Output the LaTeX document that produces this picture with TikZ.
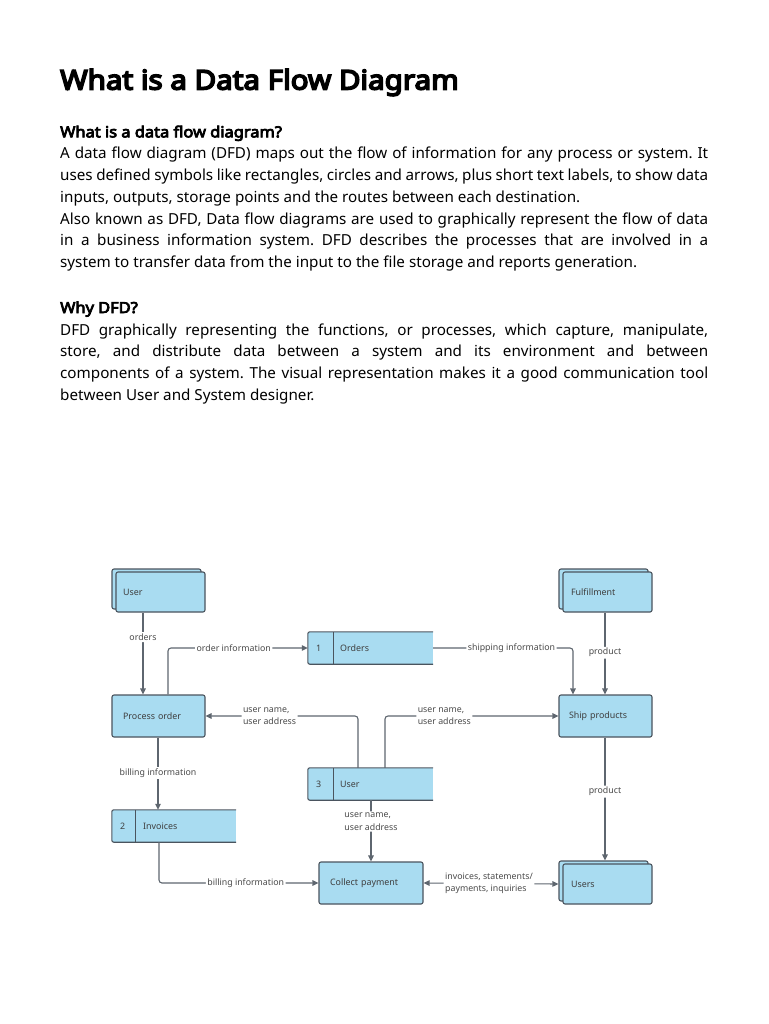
\documentclass[tikz,border=0pt]{standalone}
\usepackage{fontspec}
\setmainfont{Noto Sans}
\newfontfamily\dfont{Noto Sans}
\newfontfamily\hbf{Noto Sans}[FakeBold=5,FakeStretch=1.08]
\newfontfamily\tbf{Noto Sans}[FakeBold=6,FakeStretch=1.095]
\usetikzlibrary{arrows.meta,shadows}
\definecolor{boxfill}{HTML}{A9DCF1}
\definecolor{boxline}{HTML}{4A545E}
\definecolor{flowline}{HTML}{5E666F}
\definecolor{lbltext}{HTML}{4A4A4A}
\frenchspacing
\begin{document}
\begin{tikzpicture}[x=1pt,y=-1pt,
  body/.style={anchor=base west, inner sep=0pt, font=\fontsize{15.2}{18}\selectfont\frenchspacing},
  bodyhead/.style={anchor=base west, inner sep=0pt, font=\hbf\fontsize{15.2}{18}\selectfont},
  proc/.style={draw=boxline, fill=boxfill, line width=1.1pt, rounded corners=2pt,
    align=left, font=\dfont\fontsize{8.9}{10}\selectfont, text=lbltext!85!black},
  entity/.style={proc, copy shadow={shadow xshift=-4pt, shadow yshift=3pt, fill=boxfill, draw=boxline, line width=1.1pt}},
  storebox/.style={fill=boxfill, inner sep=0pt, minimum width=125pt, minimum height=32pt},
  storeline/.style={draw=boxline, line width=1.1pt, rounded corners=2pt},
  storetext/.style={anchor=west, inner sep=0pt, font=\dfont\fontsize{8.9}{10}\selectfont, text=lbltext!85!black},
  flow/.style={draw=flowline, line width=1.1pt, rounded corners=3pt, -{Triangle[length=6pt,width=5.5pt]}},
  flowlbl/.style={fill=white, inner sep=1.5pt, font=\dfont\fontsize{8.8}{12.5}\selectfont, text=lbltext, align=left}
]
\useasboundingbox[fill=white] (0,0) rectangle (768,1024);

% ---------- text ----------
\node[anchor=base west, inner sep=0pt, font=\tbf\fontsize{27}{32}\selectfont] (title) at (60,89.5) {What is a Data Flow Diagram};
\node[bodyhead] (h1) at (60,137.3) {What is a data flow diagram?};
\node[body] (l1) at (60,159) {\makebox[648pt][s]{A data flow diagram (DFD) maps out the flow of information for any process or system. It}};
\node[body] (l2) at (60,180.7) {\makebox[648pt][s]{uses defined symbols like rectangles, circles and arrows, plus short text labels, to show data}};
\node[body] (l3) at (60,202.4) {inputs, outputs, storage points and the routes between each destination.};
\node[body] (l4) at (60,224.1) {\makebox[648pt][s]{Also known as DFD, Data flow diagrams are used to graphically represent the flow of data}};
\node[body] (l5) at (60,245.8) {\makebox[648pt][s]{in a business information system. DFD describes the processes that are involved in a}};
\node[body] (l6) at (60,267.5) {system to transfer data from the input to the file storage and reports generation.};
\node[bodyhead] (h2) at (60,313) {Why DFD?};
\node[body] (m1) at (60,335) {\makebox[648pt][s]{DFD graphically representing the functions, or processes, which capture, manipulate,}};
\node[body] (m2) at (60,356.7) {\makebox[648pt][s]{store, and distribute data between a system and its environment and between}};
\node[body] (m3) at (60,378.4) {\makebox[648pt][s]{components of a system. The visual representation makes it a good communication tool}};
\node[body] (m4) at (60,400.1) {between User and System designer.};

% ---------- boxes ----------
\node[entity, text width=75pt, inner xsep=7pt, minimum height=40pt] (user) at (160.5,592) {User};
\node[entity, text width=73pt, inner xsep=8pt, minimum height=40pt] (fulfil) at (607.5,592) {Fulfillment};
\node[proc, text width=71pt, inner xsep=11pt, minimum height=42pt] (procorder) at (158.5,716) {Process order};
\node[proc, text width=73pt, inner xsep=10pt, minimum height=42pt] (ship) at (605.5,716) {Ship products};
\node[proc, text width=82pt, inner xsep=11pt, minimum height=42pt] (collect) at (371,883) {Collect payment};
\node[entity, text width=73pt, inner xsep=8pt, minimum height=40pt] (users) at (607.5,884) {Users};

% stores
\node[storebox] (orders) at (370.5,648) {};
\draw[storeline] (orders.north east) -- (orders.north west) -- (orders.south west) -- (orders.south east);
\draw[storeline] ([xshift=26pt]orders.north west) -- ([xshift=26pt]orders.south west);
\node[storetext] (ordersnum) at (316,648) {1};
\node[storetext] (orderstxt) at (340,648) {Orders};

\node[storebox] (ustore) at (370.5,784) {};
\draw[storeline] (ustore.north east) -- (ustore.north west) -- (ustore.south west) -- (ustore.south east);
\draw[storeline] ([xshift=26pt]ustore.north west) -- ([xshift=26pt]ustore.south west);
\node[storetext] (ustorenum) at (316,784) {3};
\node[storetext] (ustoretxt) at (340,784) {User};

\node[storebox, minimum width=124pt] (invoices) at (174,826) {};
\draw[storeline] (invoices.north east) -- (invoices.north west) -- (invoices.south west) -- (invoices.south east);
\draw[storeline] ([xshift=24pt]invoices.north west) -- ([xshift=24pt]invoices.south west);
\node[storetext] (invnum) at (120,826) {2};
\node[storetext] (invtxt) at (143,826) {Invoices};

% ---------- connector x positions ----------
\coordinate (c1) at (143,0);
\coordinate (c2) at (168,0);
\coordinate (c3) at (573,0);
\coordinate (c4) at (605,0);
\coordinate (c5) at (358,0);
\coordinate (c6) at (385,0);
\coordinate (c7) at (158,0);
\coordinate (c8) at (159,0);
\coordinate (c9) at (371,0);

% ---------- connectors ----------
\draw[flow] (user.south -| c1) -- node[flowlbl, pos=0.3] (lorders) {orders} (procorder.north -| c1);
\draw[flow] (procorder.north -| c2) |- node[flowlbl, pos=0.735] (lorderinfo) {order information} (orders.west);
\draw[flow] (orders.east) -| node[flowlbl, pos=0.28] (lshipinfo) {shipping information} (ship.north -| c3);
\draw[flow] (fulfil.south -| c4) -- node[flowlbl, pos=0.49] (lprod1) {product} (ship.north -| c4);
\draw[flow] (ustore.north -| c5) |- node[flowlbl, pos=0.79] (luser1) {user name,\\user address} (procorder.east);
\draw[flow] (ustore.north -| c6) |- node[flowlbl, pos=0.671] (luser2) {user name,\\user address} (ship.west);
\draw[flow] (procorder.south -| c7) -- node[flowlbl, pos=0.49] (lbill1) {billing information} (invoices.north -| c7);
\draw[flow] (invoices.south -| c8) |- node[flowlbl, pos=0.772] (lbill2) {billing information} (collect.west);
\draw[flow] (ustore.south -| c9) -- node[flowlbl, pos=0.347] (luser3) {user name,\\user address} (collect.north -| c9);
\draw[flow, {Triangle[length=6pt,width=5.5pt]}-{Triangle[length=6pt,width=5.5pt]}] (collect.east) -- node[flowlbl, pos=0.485] (linv) {invoices, statements/\\payments, inquiries} ([xshift=-4pt]users.west);
\draw[flow] (ship.south -| c4) -- node[flowlbl, pos=0.44] (lprod2) {product} ([yshift=3pt]users.north -| c4);
\end{tikzpicture}
\end{document}
